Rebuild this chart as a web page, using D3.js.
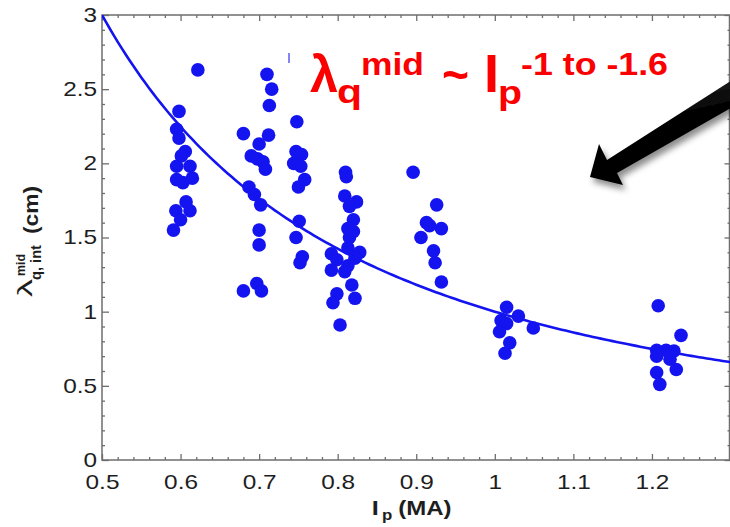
<!DOCTYPE html>
<html>
<head>
<meta charset="utf-8">
<script src="https://cdn.jsdelivr.net/npm/d3@7"></script>
<style>
  html, body { margin: 0; padding: 0; background: #fff; }
  svg { display: block; font-family: "Liberation Sans", Arial, Helvetica, sans-serif; }
</style>
</head>
<body>
<svg id="chart" width="730" height="527"></svg>
<script>
// Plasma current (MA) for each discharge
const ipValues = [
  0.622, 0.598, 0.595, 0.598, 0.606, 0.601, 0.595, 0.612, 0.595, 0.603, 0.615, 0.607, 0.612, 0.594, 0.600, 0.591,
  0.710, 0.716, 0.713, 0.680, 0.712, 0.700, 0.690, 0.698, 0.705, 0.708, 0.687, 0.694, 0.702, 0.700, 0.700, 0.680, 0.697, 0.703,
  0.748, 0.747, 0.754, 0.744, 0.753, 0.758, 0.750, 0.751, 0.747, 0.755, 0.752,
  0.810, 0.811, 0.809, 0.824, 0.815, 0.820, 0.813, 0.820, 0.815, 0.792, 0.813, 0.828, 0.822, 0.799, 0.813, 0.792, 0.809, 0.818, 0.799, 0.794, 0.822, 0.803,
  0.896, 0.926, 0.913, 0.917, 0.932, 0.906, 0.922, 0.924, 0.932,
  1.015, 1.030, 1.008, 1.015, 1.049, 1.006, 1.019, 1.013,
  1.208, 1.237, 1.206, 1.218, 1.228, 1.206, 1.223, 1.231, 1.206, 1.210
];
// Midplane-integrated heat flux width (cm), same order
const lambdaValues = [
  2.63, 2.35, 2.23, 2.17, 2.08, 2.05, 1.98, 1.98, 1.89, 1.87, 1.90, 1.74, 1.68, 1.68, 1.62, 1.55,
  2.60, 2.50, 2.39, 2.20, 2.19, 2.13, 2.05, 2.03, 2.01, 1.96, 1.84, 1.79, 1.72, 1.55, 1.45, 1.14, 1.19, 1.14,
  2.28, 2.08, 2.06, 2.00, 1.98, 1.89, 1.84, 1.61, 1.50, 1.37, 1.33,
  1.94, 1.91, 1.78, 1.74, 1.71, 1.62, 1.56, 1.54, 1.50, 1.39, 1.43, 1.40, 1.36, 1.35, 1.31, 1.28, 1.27, 1.18, 1.12, 1.06, 1.09, 0.91,
  1.94, 1.72, 1.60, 1.58, 1.56, 1.50, 1.41, 1.33, 1.20,
  1.03, 0.97, 0.94, 0.92, 0.89, 0.865, 0.79, 0.72,
  1.04, 0.84, 0.74, 0.74, 0.735, 0.70, 0.68, 0.61, 0.59, 0.51
];

// Power-law fit  lambda = fitCoeff * Ip^fitExponent
const fitCoeff = 1.0;
const fitExponent = -1.585;

// Axis ticks
const xTickValues = [0.5, 0.6, 0.7, 0.8, 0.9, 1.0, 1.1, 1.2];
const xTickLabels = ["0.5", "0.6", "0.7", "0.8", "0.9", "1", "1.1", "1.2"];
const yTickValues = [0, 0.5, 1, 1.5, 2, 2.5, 3];
const yTickLabels = ["0", "0.5", "1", "1.5", "2", "2.5", "3"];
const xDomain = [0.5, 1.3];
const yDomain = [0, 3];

const svg = d3.select("#chart");
const blue = "#1414f0";
const frameColor = "#6e6e6e";
const labelColor = "#1e1e1e";

const x = d3.scaleLinear().domain(xDomain).range([102, 730.5]);
const y = d3.scaleLinear().domain(yDomain).range([460, 15]);

const plotLeft = x.range()[0], plotRight = x.range()[1];
const plotTop = y.range()[1], plotBottom = y.range()[0];

const xMinor = d3.range(0, 41).map(i => +(0.5 + i * 0.02).toFixed(2)).filter(v => !xTickValues.includes(v));
const yMinor = d3.range(0, 31).map(i => +(i * 0.1).toFixed(1)).filter(v => !yTickValues.includes(v));

// ---- Axes (ticks drawn inward on all four sides) ----
function styleAxis(g) {
  g.select(".domain").remove();
  g.selectAll("line").attr("stroke", frameColor).attr("stroke-width", 1.3);
}

svg.append("g").attr("transform", `translate(0,${plotBottom})`)
  .call(d3.axisBottom(x).tickValues(xMinor).tickSize(-3).tickFormat(""))
  .call(styleAxis);
svg.append("g").attr("transform", `translate(0,${plotTop})`)
  .call(d3.axisTop(x).tickValues(xMinor).tickSize(-3).tickFormat(""))
  .call(styleAxis);
svg.append("g").attr("transform", `translate(0,${plotTop})`)
  .call(d3.axisTop(x).tickValues(xTickValues).tickSize(-6).tickFormat(""))
  .call(styleAxis);
svg.append("g").attr("transform", `translate(${plotLeft},0)`)
  .call(d3.axisLeft(y).tickValues(yMinor).tickSize(-3).tickFormat(""))
  .call(styleAxis);
svg.append("g").attr("transform", `translate(${plotRight},0)`)
  .call(d3.axisRight(y).tickValues(yMinor).tickSize(-3).tickFormat(""))
  .call(styleAxis);
svg.append("g").attr("transform", `translate(${plotRight},0)`)
  .call(d3.axisRight(y).tickValues(yTickValues).tickSize(-6).tickFormat(""))
  .call(styleAxis);

const xAxis = svg.append("g").attr("transform", `translate(0,${plotBottom})`)
  .call(d3.axisBottom(x).tickValues(xTickValues).tickSize(-6).tickPadding(15)
    .tickFormat((d, i) => xTickLabels[i]))
  .call(styleAxis);
xAxis.selectAll("text")
  .attr("fill", labelColor).attr("font-size", 20)
  .attr("transform", "scale(1.22,1)");

const yAxis = svg.append("g").attr("transform", `translate(${plotLeft},0)`)
  .call(d3.axisLeft(y).tickValues(yTickValues).tickSize(-7).tickPadding(4)
    .tickFormat((d, i) => yTickLabels[i]))
  .call(styleAxis);
yAxis.selectAll("text")
  .attr("fill", labelColor).attr("font-size", 20)
  .attr("transform", "scale(1.22,1)");

// Frame
svg.append("rect")
  .attr("x", plotLeft).attr("y", plotTop)
  .attr("width", plotRight - plotLeft - 1).attr("height", plotBottom - plotTop)
  .attr("fill", "none").attr("stroke", frameColor).attr("stroke-width", 1.5);

// ---- Axis titles ----
const xt = svg.append("g").attr("transform", `translate(373,515) scale(1.2,1)`)
  .attr("fill", labelColor).attr("font-weight", "bold");
xt.append("text").attr("x", -1).attr("y", 0).attr("font-size", 21).text("I");
xt.append("text").attr("x", 7.5).attr("y", 5).attr("font-size", 14).text("p");
xt.append("text").attr("x", 21).attr("y", 0).attr("font-size", 20).text("(MA)");

const yt = svg.append("g").attr("transform", "rotate(-90)").attr("fill", labelColor);
yt.append("text").attr("x", -297).attr("y", 32).attr("font-size", 20)
  .attr("textLength", 18).attr("lengthAdjust", "spacingAndGlyphs").text("λ");
yt.append("text").attr("x", -276).attr("y", 25).attr("font-size", 13).attr("font-weight", "bold")
  .attr("textLength", 22).attr("lengthAdjust", "spacingAndGlyphs").text("mid");
yt.append("text").attr("x", -280).attr("y", 41).attr("font-size", 14).attr("font-weight", "bold")
  .attr("textLength", 35).attr("lengthAdjust", "spacingAndGlyphs").text("q, int");
yt.append("text").attr("x", -234).attr("y", 38).attr("font-size", 20).attr("font-weight", "bold")
  .attr("textLength", 48).attr("lengthAdjust", "spacingAndGlyphs").text("(cm)");

// ---- Data points ----
const points = ipValues.map((v, i) => ({ ip: v, lam: lambdaValues[i] }));
svg.append("g").selectAll("circle")
  .data(points)
  .join("circle")
  .attr("cx", d => x(d.ip))
  .attr("cy", d => y(d.lam))
  .attr("r", 6.8)
  .attr("fill", blue);

// ---- Power-law fit curve ----
const plot = svg.append("g");
plot.append("clipPath").attr("id", "plotClip")
  .append("rect").attr("x", plotLeft).attr("y", plotTop)
  .attr("width", plotRight - plotLeft).attr("height", plotBottom - plotTop);
const fitIp = d3.range(0, 161).map(i => xDomain[0] + i * (xDomain[1] - xDomain[0]) / 160);
const line = d3.line().x(d => x(d)).y(d => y(fitCoeff * Math.pow(d, fitExponent)));
plot.append("path")
  .datum(fitIp)
  .attr("d", line)
  .attr("clip-path", "url(#plotClip)")
  .attr("fill", "none")
  .attr("stroke", blue)
  .attr("stroke-width", 2.6);

// small stray cursor mark near the annotation
svg.append("line")
  .attr("x1", 289).attr("x2", 289).attr("y1", 53).attr("y2", 63)
  .attr("stroke", blue).attr("stroke-width", 1.5).attr("opacity", 0.7);

// ---- Scaling-law annotation ----
const red = "#fa0000";
const ann = svg.append("g").attr("fill", red).attr("font-weight", "bold");
ann.append("text").attr("x", 310).attr("y", 92).attr("font-size", 52)
  .attr("textLength", 28).attr("lengthAdjust", "spacingAndGlyphs").text("λ");
ann.append("text").attr("x", 337).attr("y", 103).attr("font-size", 34)
  .attr("textLength", 25).attr("lengthAdjust", "spacingAndGlyphs").text("q");
ann.append("text").attr("x", 361).attr("y", 75).attr("font-size", 31)
  .attr("textLength", 63).attr("lengthAdjust", "spacingAndGlyphs").text("mid");
ann.append("text").attr("x", 442).attr("y", 92).attr("font-size", 50)
  .attr("textLength", 27).attr("lengthAdjust", "spacingAndGlyphs").text("~");
ann.append("text").attr("x", 484).attr("y", 92).attr("font-size", 54).text("I");
ann.append("text").attr("x", 498).attr("y", 104).attr("font-size", 34)
  .attr("textLength", 24).attr("lengthAdjust", "spacingAndGlyphs").text("p");
ann.append("text").attr("x", 521).attr("y", 75).attr("font-size", 32)
  .attr("textLength", 147).attr("lengthAdjust", "spacingAndGlyphs").text("-1 to -1.6");

// ---- Pointer arrow ----
const defs = svg.append("defs");
const shadow = defs.append("filter").attr("id", "arrowShadow")
  .attr("x", "-30%").attr("y", "-30%").attr("width", "160%").attr("height", "160%");
shadow.append("feDropShadow").attr("dx", 3).attr("dy", 5).attr("stdDeviation", 3)
  .attr("flood-color", "#000").attr("flood-opacity", 0.45);
const grad = defs.append("linearGradient").attr("id", "arrowFill")
  .attr("x1", "0%").attr("y1", "0%").attr("x2", "30%").attr("y2", "100%");
grad.append("stop").attr("offset", "0%").attr("stop-color", "#3a3a3a");
grad.append("stop").attr("offset", "50%").attr("stop-color", "#050505");
grad.append("stop").attr("offset", "100%").attr("stop-color", "#000");

// arrow outline as offsets (px) from its tip
const arrowTip = [590, 177];
const arrowShape = [[0, 0], [9, -33], [17, -17], [155, -105], [155, -77], [27, -4], [33, 8]];
svg.append("path")
  .attr("d", d3.line()(arrowShape.map(p => [arrowTip[0] + p[0], arrowTip[1] + p[1]])) + "Z")
  .attr("fill", "url(#arrowFill)")
  .attr("filter", "url(#arrowShadow)");
</script>
</body>
</html>
